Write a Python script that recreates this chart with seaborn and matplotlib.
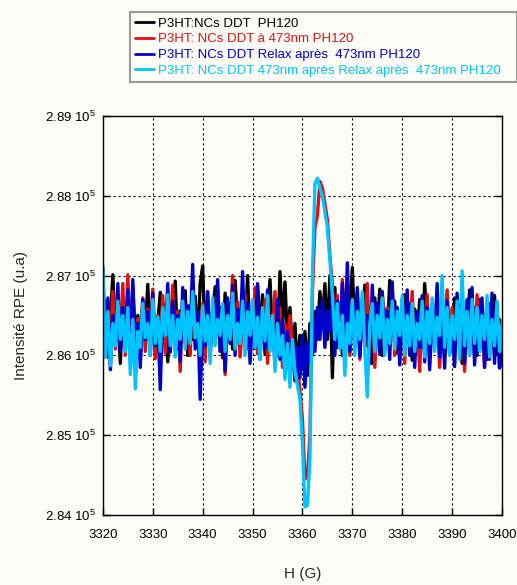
import numpy as np
import pandas as pd
import matplotlib
matplotlib.use("Agg")
import matplotlib.pyplot as plt
import seaborn as sns

# Field axis (G)
field = [3320 + 0.5 * i for i in range(161)]

# EPR intensity (x 10^5)
black_vals = [
    2.8612, 2.8668, 2.8598, 2.8645, 2.8701, 2.8620, 2.8655, 2.8590, 2.8672, 2.8631,
    2.8660, 2.8605, 2.8684, 2.8618, 2.8650, 2.8596, 2.8667, 2.8627, 2.8689, 2.8610,
    2.8658, 2.8603, 2.8641, 2.8679, 2.8615, 2.8664, 2.8592, 2.8650, 2.8625, 2.8693,
    2.8608, 2.8656, 2.8634, 2.8681, 2.8600, 2.8662, 2.8620, 2.8674, 2.8611, 2.8690,
    2.8712, 2.8618, 2.8668, 2.8604, 2.8652, 2.8686, 2.8626, 2.8660, 2.8597, 2.8678,
    2.8630, 2.8665, 2.8608, 2.8694, 2.8640, 2.8612, 2.8671, 2.8623, 2.8700, 2.8615,
    2.8662, 2.8609, 2.8688, 2.8631, 2.8676, 2.8602, 2.8659, 2.8695, 2.8620, 2.8668,
    2.8611, 2.8705, 2.8640, 2.8692, 2.8615, 2.8660, 2.8598, 2.8640, 2.8580, 2.8625,
    2.8585, 2.8630, 2.8575, 2.8640, 2.8600, 2.8655, 2.8620, 2.8680, 2.8640, 2.8690,
    2.8620, 2.8700, 2.8572, 2.8685, 2.8610, 2.8665, 2.8600, 2.8678, 2.8625, 2.8660,
    2.8710, 2.8622, 2.8668, 2.8605, 2.8650, 2.8688, 2.8612, 2.8660, 2.8590, 2.8672,
    2.8628, 2.8683, 2.8600, 2.8657, 2.8620, 2.8694, 2.8635, 2.8668, 2.8603, 2.8650,
    2.8615, 2.8676, 2.8632, 2.8665, 2.8594, 2.8658, 2.8620, 2.8670, 2.8610, 2.8690,
    2.8640, 2.8602, 2.8662, 2.8625, 2.8680, 2.8598, 2.8655, 2.8615, 2.8668, 2.8630,
    2.8605, 2.8672, 2.8620, 2.8663, 2.8590, 2.8655, 2.8618, 2.8682, 2.8625, 2.8660,
    2.8600, 2.8670, 2.8612, 2.8650, 2.8595, 2.8665, 2.8628, 2.8675, 2.8602, 2.8645, 2.8610,
]

red_vals = [
    2.8640, 2.8598, 2.8665, 2.8615, 2.8680, 2.8608, 2.8652, 2.8625, 2.8690, 2.8600,
    2.8701, 2.8612, 2.8668, 2.8574, 2.8646, 2.8620, 2.8672, 2.8605, 2.8658, 2.8630,
    2.8683, 2.8596, 2.8650, 2.8618, 2.8675, 2.8603, 2.8660, 2.8627, 2.8688, 2.8610,
    2.8655, 2.8580, 2.8670, 2.8622, 2.8662, 2.8600, 2.8690, 2.8615, 2.8648, 2.8632,
    2.8665, 2.8592, 2.8678, 2.8610, 2.8655, 2.8628, 2.8684, 2.8606, 2.8660, 2.8576,
    2.8650, 2.8622, 2.8700, 2.8612, 2.8667, 2.8598, 2.8640, 2.8676, 2.8608, 2.8660,
    2.8625, 2.8685, 2.8602, 2.8655, 2.8618, 2.8670, 2.8590, 2.8650, 2.8630, 2.8680,
    2.8600, 2.8660, 2.8585, 2.8640, 2.8610, 2.8650, 2.8610, 2.8570, 2.8590, 2.8555,
    2.8520, 2.8445, 2.8448, 2.8500, 2.8680, 2.8760, 2.8775, 2.8818, 2.8810, 2.8790,
    2.8770, 2.8725, 2.8690, 2.8630, 2.8675, 2.8610, 2.8695, 2.8640, 2.8660, 2.8600,
    2.8668, 2.8618, 2.8680, 2.8595, 2.8652, 2.8625, 2.8690, 2.8610, 2.8665, 2.8585,
    2.8645, 2.8620, 2.8678, 2.8605, 2.8660, 2.8632, 2.8685, 2.8600, 2.8650, 2.8615,
    2.8670, 2.8590, 2.8658, 2.8625, 2.8680, 2.8608, 2.8645, 2.8580, 2.8662, 2.8620,
    2.8676, 2.8600, 2.8640, 2.8612, 2.8668, 2.8585, 2.8650, 2.8628, 2.8682, 2.8603,
    2.8660, 2.8590, 2.8672, 2.8615, 2.8645, 2.8580, 2.8668, 2.8620, 2.8655, 2.8598,
    2.8676, 2.8610, 2.8650, 2.8585, 2.8640, 2.8622, 2.8670, 2.8600, 2.8660, 2.8585, 2.8625,
]

blue_vals = [
    2.8710, 2.8600, 2.8672, 2.8582, 2.8650, 2.8615, 2.8690, 2.8605, 2.8660, 2.8625,
    2.8682, 2.8598, 2.8695, 2.8610, 2.8640, 2.8585, 2.8670, 2.8620, 2.8655, 2.8600,
    2.8678, 2.8612, 2.8645, 2.8557, 2.8660, 2.8625, 2.8690, 2.8604, 2.8668, 2.8618,
    2.8650, 2.8592, 2.8685, 2.8615, 2.8662, 2.8630, 2.8714, 2.8608, 2.8655, 2.8545,
    2.8640, 2.8612, 2.8680, 2.8598, 2.8662, 2.8622, 2.8695, 2.8605, 2.8650, 2.8580,
    2.8672, 2.8615, 2.8688, 2.8600, 2.8658, 2.8625, 2.8705, 2.8610, 2.8665, 2.8590,
    2.8648, 2.8620, 2.8690, 2.8595, 2.8660, 2.8608, 2.8682, 2.8612, 2.8640, 2.8588,
    2.8670, 2.8595, 2.8645, 2.8580, 2.8630, 2.8575, 2.8620, 2.8568, 2.8610, 2.8572,
    2.8625, 2.8560, 2.8615, 2.8590, 2.8650, 2.8605, 2.8660, 2.8620, 2.8670, 2.8610,
    2.8655, 2.8630, 2.8682, 2.8600, 2.8668, 2.8622, 2.8690, 2.8612, 2.8716, 2.8605,
    2.8660, 2.8628, 2.8685, 2.8598, 2.8670, 2.8615, 2.8650, 2.8590, 2.8688, 2.8620,
    2.8665, 2.8602, 2.8680, 2.8625, 2.8655, 2.8595, 2.8692, 2.8612, 2.8660, 2.8588,
    2.8650, 2.8620, 2.8682, 2.8600, 2.8664, 2.8585, 2.8655, 2.8610, 2.8675, 2.8592,
    2.8660, 2.8582, 2.8645, 2.8615, 2.8690, 2.8598, 2.8650, 2.8584, 2.8668, 2.8605,
    2.8640, 2.8586, 2.8678, 2.8610, 2.8655, 2.8590, 2.8670, 2.8600, 2.8685, 2.8588,
    2.8650, 2.8605, 2.8672, 2.8585, 2.8660, 2.8595, 2.8678, 2.8590, 2.8665, 2.8584, 2.8600,
]

cyan_vals = [
    2.8712, 2.8598, 2.8655, 2.8587, 2.8640, 2.8612, 2.8668, 2.8620, 2.8650, 2.8605,
    2.8660, 2.8576, 2.8645, 2.8558, 2.8630, 2.8610, 2.8665, 2.8622, 2.8640, 2.8600,
    2.8670, 2.8615, 2.8648, 2.8605, 2.8660, 2.8625, 2.8676, 2.8612, 2.8650, 2.8598,
    2.8645, 2.8620, 2.8668, 2.8608, 2.8655, 2.8615, 2.8680, 2.8622, 2.8640, 2.8600,
    2.8662, 2.8618, 2.8650, 2.8590, 2.8672, 2.8612, 2.8645, 2.8625, 2.8665, 2.8605,
    2.8650, 2.8620, 2.8678, 2.8608, 2.8640, 2.8615, 2.8668, 2.8600, 2.8655, 2.8625,
    2.8670, 2.8610, 2.8648, 2.8595, 2.8660, 2.8618, 2.8675, 2.8605, 2.8650, 2.8580,
    2.8640, 2.8600, 2.8625, 2.8570, 2.8615, 2.8560, 2.8620, 2.8580, 2.8562, 2.8545,
    2.8490, 2.8410, 2.8412, 2.8470, 2.8700, 2.8815, 2.8822, 2.8810, 2.8800, 2.8780,
    2.8760, 2.8720, 2.8675, 2.8620, 2.8665, 2.8608, 2.8650, 2.8575, 2.8640, 2.8615,
    2.8670, 2.8600, 2.8655, 2.8620, 2.8680, 2.8610, 2.8548, 2.8640, 2.8665, 2.8605,
    2.8650, 2.8622, 2.8672, 2.8600, 2.8645, 2.8615, 2.8668, 2.8608, 2.8655, 2.8625,
    2.8675, 2.8600, 2.8650, 2.8612, 2.8665, 2.8605, 2.8640, 2.8620, 2.8668, 2.8598,
    2.8655, 2.8615, 2.8672, 2.8605, 2.8648, 2.8625, 2.8700, 2.8610, 2.8660, 2.8600,
    2.8650, 2.8620, 2.8668, 2.8595, 2.8706, 2.8612, 2.8655, 2.8600, 2.8670, 2.8615,
    2.8660, 2.8605, 2.8650, 2.8620, 2.8675, 2.8598, 2.8645, 2.8612, 2.8668, 2.8605, 2.8640,
]

labels = [
    "P3HT:NCs DDT  PH120",
    "P3HT: NCs DDT à 473nm PH120",
    "P3HT: NCs DDT Relax après  473nm PH120",
    "P3HT: NCs DDT 473nm après Relax après  473nm PH120",
]
colors = ["#000000", "#e01010", "#0000cc", "#00c4ff"]
x_ticks = [3320, 3330, 3340, 3350, 3360, 3370, 3380, 3390, 3400]
y_ticks = [2.84, 2.85, 2.86, 2.87, 2.88, 2.89]

series = [black_vals, red_vals, blue_vals, cyan_vals]
df = pd.concat(
    [pd.DataFrame({"H": field, "I": s, "serie": lab}) for s, lab in zip(series, labels)],
    ignore_index=True,
)

sns.set_style("white")
plt.rcParams["font.family"] = ["Liberation Sans", "DejaVu Sans"]
bg = "#fdfdf8"

fig = plt.figure(figsize=(5.17, 5.85), dpi=100, facecolor=bg)
ax = fig.add_axes([0.199, 0.1197, 0.772, 0.682])
ax.set_facecolor(bg)

sns.lineplot(data=df, x="H", y="I", hue="serie", hue_order=labels,
             palette=dict(zip(labels, colors)), estimator=None, sort=False,
             linewidth=2.4, ax=ax, legend=False)

ax.set_xlim(3320, 3400)
ax.set_ylim(2.84, 2.89)
ax.set_xticks(x_ticks)
ax.set_xticklabels([str(t) for t in x_ticks], fontsize=9.5)
ax.set_yticks(y_ticks)
ax.set_yticklabels([f"{t:.2f} 10$^{{\\mathregular{{5}}}}$" for t in y_ticks], fontsize=9.5)
ax.tick_params(direction="in", length=5, width=1, colors="black",
               top=False, right=True, bottom=True, left=True)
ax.tick_params(axis="x", pad=10)
ax.tick_params(axis="y", pad=5)
ax.grid(True, color="black", linestyle=(0, (2, 2.5)), linewidth=0.8)
for sp in ax.spines.values():
    sp.set_color("black")
    sp.set_linewidth(1.0)
ax.set_xlabel("H (G)", fontsize=11, labelpad=19)
ax.set_ylabel("Intensité RPE (u.a)", fontsize=11, labelpad=12)

handles = [plt.Line2D([], [], color=c, linewidth=2.0) for c in colors]
leg = fig.legend(handles, labels, loc="upper left",
                 bbox_to_anchor=(0.2515, 0.863, 0.748, 0.116), mode="expand",
                 fontsize=9.5, frameon=True, fancybox=False, borderpad=0.4,
                 labelspacing=0.26, handlelength=1.45, handletextpad=0.3,
                 borderaxespad=0.0)
leg.get_frame().set_edgecolor("#808080")
leg.get_frame().set_linewidth(1.5)
leg.get_frame().set_facecolor(bg)
for txt, c in zip(leg.get_texts(), colors):
    txt.set_color(c)

fig.savefig("out.png", dpi=100, facecolor=bg)
